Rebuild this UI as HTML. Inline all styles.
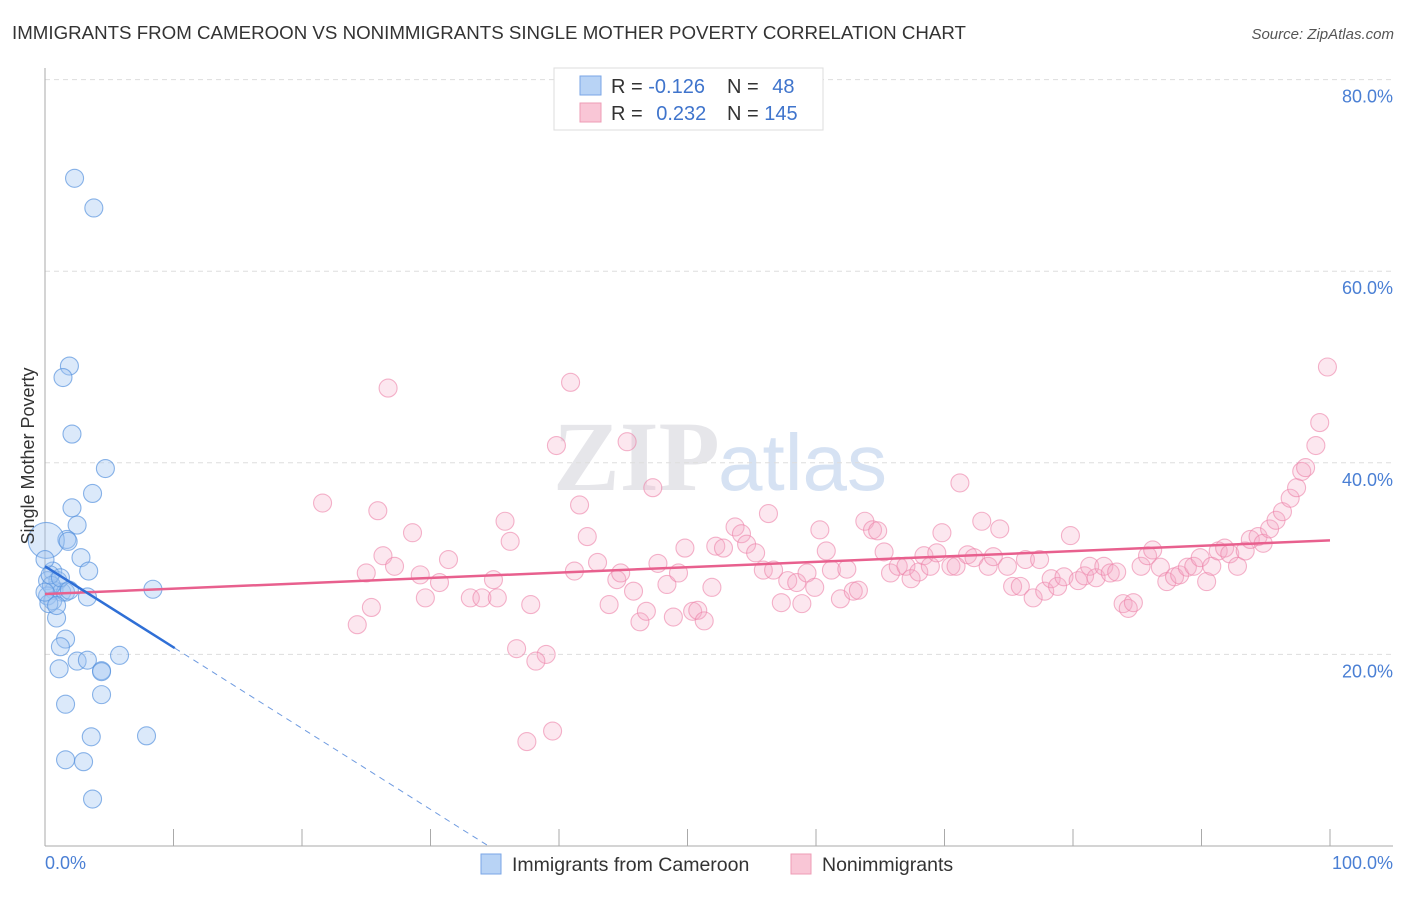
<!DOCTYPE html>
<html><head><meta charset="utf-8"><style>
body{margin:0;background:#fff;font-family:"Liberation Sans",sans-serif;}
</style></head><body>
<svg width="1406" height="892" xmlns="http://www.w3.org/2000/svg" font-family="Liberation Sans, sans-serif">
<text x="12" y="39" font-size="18.5" fill="#333" textLength="954" lengthAdjust="spacingAndGlyphs">IMMIGRANTS FROM CAMEROON VS NONIMMIGRANTS SINGLE MOTHER POVERTY CORRELATION CHART</text>
<text x="1394" y="39" font-size="15" fill="#555" font-style="italic" text-anchor="end">Source: ZipAtlas.com</text>
<text x="553" y="490" font-size="100" fill="#e6e6ea" font-family="Liberation Serif, serif" font-weight="bold">ZIP</text>
<text x="718" y="490" font-size="80" fill="#d6e2f3">atlas</text>
<g id="grid"></g>
<g id="axes"></g>
<g id="pts"></g>
<g id="lines"></g>
<text transform="translate(34,456) rotate(-90)" font-size="18" fill="#333" text-anchor="middle">Single Mother Poverty</text>
<text x="45" y="869" font-size="18" fill="#4a7fd4">0.0%</text>
<text x="1393" y="869" font-size="18" fill="#4a7fd4" text-anchor="end">100.0%</text>
<g>
<rect x="554" y="68" width="269" height="62" fill="#fff" stroke="#ddd"/>
<rect x="580" y="76" width="21" height="19" fill="#b8d3f5" stroke="#7aa6e6"/>
<rect x="580" y="103" width="21" height="19" fill="#f9c6d6" stroke="#ee9cb6"/>
<text x="611" y="93" font-size="20" fill="#333">R = <tspan fill="#3f74cc">-0.126</tspan></text>
<text x="727" y="93" font-size="20" fill="#333">N = <tspan fill="#3f74cc" dx="8">48</tspan></text>
<text x="611" y="120" font-size="20" fill="#333">R = <tspan fill="#3f74cc" dx="8">0.232</tspan></text>
<text x="727" y="120" font-size="20" fill="#333">N = <tspan fill="#3f74cc">145</tspan></text>
</g>
<g>
<rect x="481" y="854" width="20" height="20" fill="#b8d3f5" stroke="#7aa6e6"/>
<text x="512" y="871" font-size="19.5" fill="#333">Immigrants from Cameroon</text>
<rect x="791" y="854" width="20" height="20" fill="#f9c6d6" stroke="#ee9cb6"/>
<text x="822" y="871" font-size="19.5" fill="#333">Nonimmigrants</text>
</g>
</svg>
<script>
const yTicks=[20,40,60,80];
const xTicks=[0,10,20,30,40,50,60,70,80,90,100];
const blueX=[2.3,3.8,1.9,1.4,2.1,4.7,3.7,2.1,2.5,1.7,0.1,1.8,2.8,3.4,0.6,0.2,1.0,0.7,1.3,0.2,0.6,1.6,3.3,8.4,0.9,1.6,1.2,2.5,3.3,5.8,1.1,4.4,4.4,4.4,1.6,3.6,7.9,1.6,3.0,3.7,0.3,0.5,0.0,0.4,1.2,1.9,0.9,0.0];
const blueY=[69.7,66.6,50.1,48.9,43.0,39.4,36.8,35.3,33.5,32.0,31.9,31.8,30.1,28.7,28.7,27.7,27.7,26.7,26.5,26.1,25.6,26.5,26.0,26.8,23.8,21.6,20.8,19.3,19.4,19.9,18.5,18.3,18.2,15.8,14.8,11.4,11.5,9.0,8.8,4.9,25.3,27.2,26.5,28.3,28.0,26.7,25.1,29.9];
const pinkX=[21.6,25.9,26.7,40.9,39.8,45.3,47.3,41.6,35.8,36.2,28.6,26.3,25.0,25.4,24.3,27.2,29.2,30.7,29.6,31.4,33.1,34.0,35.2,34.9,37.8,36.7,39.0,38.2,37.5,39.5,42.2,41.2,43.0,43.9,44.5,44.8,45.8,46.3,46.8,47.7,48.4,49.3,49.8,48.9,50.4,50.8,51.3,51.9,52.2,52.8,53.7,54.2,54.6,55.3,56.3,55.9,56.7,57.3,57.8,58.5,58.9,59.3,59.9,60.3,60.8,61.2,61.9,62.4,62.9,63.3,63.8,64.4,64.8,65.3,65.8,66.4,67.0,67.4,68.0,68.4,68.9,69.4,69.8,70.5,70.9,71.2,71.8,72.3,72.9,73.4,73.8,74.3,74.9,75.3,75.9,76.3,76.9,77.4,77.8,78.3,78.8,79.3,79.8,80.4,80.9,81.3,81.8,82.4,82.9,83.4,83.9,84.3,84.7,85.3,85.8,86.2,86.8,87.3,87.9,88.3,88.9,89.4,89.9,90.4,90.8,91.3,91.8,92.2,92.8,93.4,93.8,94.4,94.8,95.3,95.8,96.3,96.9,97.4,97.8,98.1,98.9,99.2,99.8];
const pinkY=[35.8,35.0,47.8,48.4,41.8,42.2,37.4,35.6,33.9,31.8,32.7,30.3,28.5,24.9,23.1,29.2,28.3,27.5,25.9,29.9,25.9,25.9,25.9,27.8,25.2,20.6,20.0,19.3,10.9,12.0,32.3,28.7,29.6,25.2,27.8,28.5,26.6,23.4,24.5,29.5,27.3,28.5,31.1,23.9,24.5,24.6,23.5,27.0,31.3,31.1,33.3,32.6,31.5,30.6,34.7,28.8,28.8,25.4,27.7,27.5,25.3,28.5,27.0,33.0,30.8,28.8,25.8,28.9,26.6,26.7,33.9,33.0,32.9,30.7,28.5,29.2,29.2,27.9,28.6,30.3,29.2,30.6,32.7,29.2,29.2,37.9,30.4,30.1,33.9,29.2,30.2,33.1,29.2,27.1,27.1,29.9,25.9,29.9,26.6,27.9,27.1,28.1,32.4,27.7,28.2,29.2,28.0,29.2,28.5,28.6,25.3,24.8,25.4,29.2,30.3,30.9,29.1,27.6,28.1,28.3,29.1,29.2,30.1,27.6,29.2,30.8,31.1,30.5,29.2,30.8,32.0,32.3,31.6,33.1,34.0,34.9,36.3,37.4,39.1,39.5,41.8,44.2,50.0];
const blueTrend=[29.2,-0.846];
const pinkTrend=[26.3,31.9];
const X=v=>45+v*12.85, Y=v=>846-v*9.58;
const NS='http://www.w3.org/2000/svg';
function mk(t,a,p){const e=document.createElementNS(NS,t);for(const k in a)e.setAttribute(k,a[k]);p.appendChild(e);return e;}
const grid=document.getElementById('grid'),axes=document.getElementById('axes'),pts=document.getElementById('pts'),lines=document.getElementById('lines');
yTicks.forEach(v=>{
 const l=mk('line',{x1:45,x2:1393,y1:Y(v),y2:Y(v),stroke:'#ddd','stroke-dasharray':'5,4'},grid);
 
 
 const t=mk('text',{x:1393,y:Y(v)+23,'font-size':18,fill:'#4a7fd4','text-anchor':'end'},grid);
 t.textContent=v.toFixed(1)+'%';
 
 
});
const ax=mk('line',{x1:45,x2:45,y1:68,y2:846,stroke:'#aaa'},axes);


const bx=mk('line',{x1:45,x2:1393,y1:846,y2:846,stroke:'#aaa'},axes);


xTicks.forEach(v=>{
 const t=mk('line',{x1:X(v),x2:X(v),y1:829,y2:846,stroke:'#aaa'},axes);
 
 
});
pinkX.forEach((x,i)=>{
 const c=mk('circle',{cx:X(x),cy:Y(pinkY[i]),r:9,fill:'rgba(246,170,196,0.28)',stroke:'rgba(236,130,168,0.6)','stroke-width':1.1},pts);
 
 
});
blueX.forEach((x,i)=>{
 const c=mk('circle',{cx:X(x),cy:Y(blueY[i]),r:i==10?18:9,fill:'rgba(160,196,242,0.38)',stroke:'rgba(90,148,222,0.7)','stroke-width':1.1},pts);
 
 
});
const pl=mk('line',{x1:X(0),y1:Y(pinkTrend[0]),x2:X(100),y2:Y(pinkTrend[1]),stroke:'#e8608e','stroke-width':2.5},lines);


const bEnd=10.1, zero=-blueTrend[0]/blueTrend[1];
const bl=mk('line',{x1:X(0),y1:Y(blueTrend[0]),x2:X(bEnd),y2:Y(blueTrend[0]+blueTrend[1]*bEnd),stroke:'#2f6fd6','stroke-width':2.5},lines);


const bd=mk('line',{x1:X(bEnd),y1:Y(blueTrend[0]+blueTrend[1]*bEnd),x2:X(zero),y2:Y(0),stroke:'#6f9be0','stroke-width':1,'stroke-dasharray':'6,5'},lines);


</script>
</body></html>
